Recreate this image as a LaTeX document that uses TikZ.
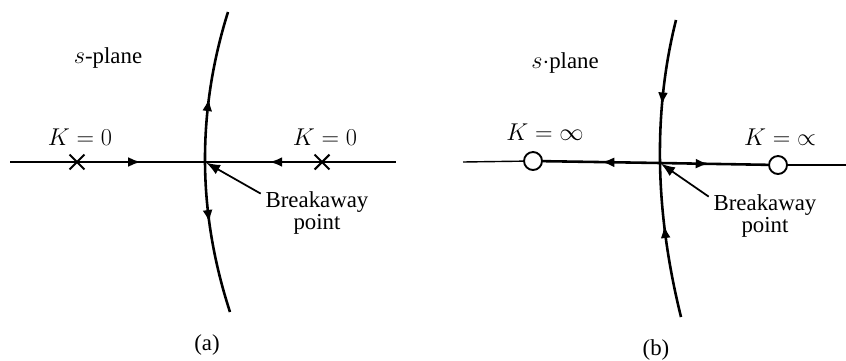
\documentclass[tikz,border=0pt]{standalone}
\usepackage{fontspec}
\setmainfont{Liberation Serif}
\usepackage{tikz}
\usetikzlibrary{arrows.meta,shapes.misc,decorations.markings,positioning}

\begin{document}
\begin{tikzpicture}[x=0.03cm, y=-0.03cm,
    axis/.style={line width=1.2pt},
    locus/.style={line width=2.2pt},
    midarr/.style={postaction={decorate, decoration={markings,
        mark=at position #1 with {\arrow{Latex[length=11pt,width=8.5pt]}}}}},
    pole/.style={cross out, draw, line width=1.8pt, minimum size=0.38cm, inner sep=0pt},
    zero/.style={circle, draw, fill=white, line width=1.6pt, minimum size=0.54cm, inner sep=0pt},
    lbl/.style={font=\fontsize{19.5}{21}\selectfont},
    pointer/.style={-{Latex[length=12pt,width=9pt]}, line width=1.5pt, shorten >=1pt}
]
    \useasboundingbox (0,0) rectangle (846,360);

    % (a) poles on the real axis
    \coordinate (wa) at (10,162);
    \coordinate (ea) at (396,162);
    \coordinate (bpa) at (205,162);
    \coordinate (topa) at (228,12);
    \coordinate (bota) at (230,312);
    \node[pole] (p1) at (77,162) {};
    \node[pole] (p2) at (322,162) {};

    \draw[axis] (wa) -- (p1.center);
    \draw[axis] (p2.center) -- (ea);
    \draw[locus, midarr=0.5] (p1.center) -- (bpa);
    \draw[locus, midarr=0.45] (p2.center) -- (bpa);
    \draw[locus, midarr=0.42] (bpa) .. controls (204.7,112) and (212.3,62) .. (topa);
    \draw[locus, midarr=0.4] (bpa) .. controls (205.3,212) and (213.7,262) .. (bota);

    \node[lbl] (spa) at (108,58) {$s$-plane};
    \node[lbl] (k1) at (80,137) {$K=0$};
    \node[lbl] (k2) at (325,137) {$K=0$};
    \node[lbl, align=center, inner sep=1pt] (bka) at (317,213) {Breakaway\\[-2pt]point};
    \draw[pointer] ([xshift=-3pt,yshift=-3pt]bka.north west) -- (bpa);
    \node[lbl] (capa) at (207,345) {(a)};

    % (b) zeros on the real axis
    \coordinate (wb) at (463,162);
    \coordinate (eb) at (846,165);
    \coordinate (bpb) at (660,163);
    \coordinate (topb) at (676,20);
    \coordinate (botb) at (681,317);
    \node[zero] (z1) at (533,161) {};
    \node[zero] (z2) at (778,165) {};

    \draw[axis] (wb) -- (z1);
    \draw[axis] (z2) -- (eb);
    \draw[locus, midarr=0.5] (bpb) -- (z1);
    \draw[locus, midarr=0.45] (bpb) -- (z2);
    \draw[locus, midarr=0.6] (topb) .. controls (664.5,65.8) and (659.2,113.5) .. (bpb);
    \draw[locus, midarr=0.6] (botb) .. controls (667.8,263.8) and (660.8,212.5) .. (bpb);

    \node[lbl] (spb) at (565,63) {$s\cdot$plane};
    \node[lbl] (k3) at (545,132) {$K=\infty$};
    \node[lbl] (k4) at (780,137) {$K=\mathord{\propto}$};
    \node[lbl, align=center, inner sep=1pt] (bkb) at (765,216) {Breakaway\\[-2pt]point};
    \draw[pointer] ([xshift=-3pt,yshift=-3pt]bkb.north west) -- (bpb);
    \node[lbl] (capb) at (656,350) {(b)};
\end{tikzpicture}
\end{document}
